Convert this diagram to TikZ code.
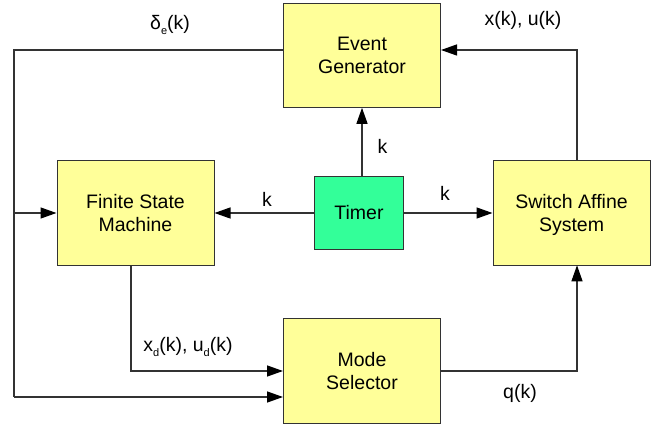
\documentclass[tikz,border=0pt]{standalone}
\usepackage{fontspec}
\setmainfont{Liberation Sans}
\usetikzlibrary{arrows.meta}
\definecolor{boxyellow}{HTML}{FFFF99}
\definecolor{timergreen}{HTML}{33FF99}
\definecolor{edge}{HTML}{333333}
\begin{document}
\begin{tikzpicture}[x=1pt,y=-1pt,
  font=\fontsize{19.5}{23}\selectfont,
  block/.style={draw=edge, line width=1pt, fill=boxyellow, align=center,
    minimum width=157pt, minimum height=104.5pt, inner sep=0pt},
  clock/.style={draw=edge, line width=1pt, fill=timergreen, align=center,
    minimum width=89pt, minimum height=73pt, inner sep=0pt},
  sig/.style={draw=edge, line width=1.3pt,
    -{Triangle[length=16pt,width=11pt,fill=black,color=black]}},
  wire/.style={draw=edge, line width=1.3pt},
  lbl/.style={inner sep=0pt}]
\useasboundingbox (0,0) rectangle (663,427);

% blocks
\node[block] (eg)  at (362,55.5)  {Event\\Generator};
\node[block] (fsm) at (135.5,213) {Finite State\\Machine};
\node[block] (sas) at (571.5,213) {Switch Affine\\\smash{System}};
\node[block] (ms)  at (362,371)   {Mode\\Selector};
\node[clock] (tm)  at (359,213)   {Timer};

% routing points
\coordinate (egL) at (eg.west |- 0,50);
\coordinate (egR) at (eg.east |- 0,50);
\coordinate (tl)  at (14,50);
\coordinate (bl)  at (14,397);
\coordinate (mid) at (14,213);
\coordinate (tr)  at (577,50);
\coordinate (sasT) at (577,160.7);
\coordinate (sasB) at (577,265.3);
\coordinate (fsmB) at (131,265.3);
\coordinate (fsmC) at (131,371);
\coordinate (msC) at (ms.west |- 0,371);
\coordinate (msR) at (ms.east |- 0,371);
\coordinate (qC)  at (577,371);
\coordinate (msL) at (ms.west |- 0,397);
\coordinate (tmT) at (362,176.5);
\coordinate (egB) at (362,107.8);

% feedback of the event signal
\draw[wire] (egL) -- (tl) -- (bl);
\draw[sig] (bl) -- (msL);
\draw[sig] (mid) -- (fsm.west);
\node[lbl] (dlbl) at (170,25) {δ\raisebox{-0.45ex}{\fontsize{11}{11}\selectfont e}(k)};

% state feedback to the event generator
\draw[sig] (sasT) -- (tr) -- (egR);
\node[lbl] (xulbl) at (523,20) {x(k), u(k)};

% timer outputs
\draw[sig] (tmT) -- (egB);
\node[lbl] (k1) at (382.5,146) {k};
\draw[sig] (tm.west) -- (fsm.east);
\node[lbl] (k2) at (267,199) {k};
\draw[sig] (tm.east) -- (sas.west);
\node[lbl] (k3) at (445,193) {k};

% finite state machine to mode selector
\draw[sig] (fsmB) -- (fsmC) -- (msC);
\node[lbl] (xdlbl) at (188,347) {x\raisebox{-0.45ex}{\fontsize{11}{11}\selectfont d}(k), u\raisebox{-0.45ex}{\fontsize{11}{11}\selectfont d}(k)};

% mode selector to switched system
\draw[sig] (msR) -- (qC) -- (sasB);
\node[lbl] (qlbl) at (520,393) {q(k)};
\end{tikzpicture}
\end{document}
